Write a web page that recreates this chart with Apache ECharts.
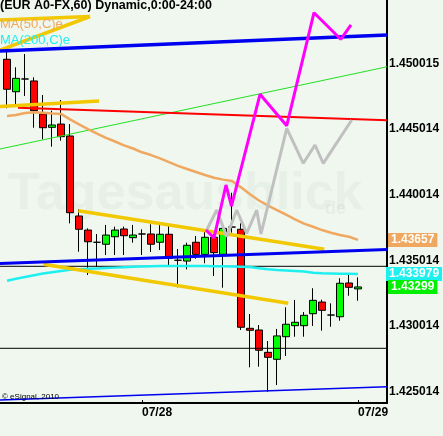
<!DOCTYPE html>
<html>
<head>
<meta charset="utf-8">
<script src="https://cdn.jsdelivr.net/npm/echarts@6/dist/echarts.min.js"></script>
<style>
  html, body { margin: 0; padding: 0; background: #eff7ef; }
  #chart { width: 443px; height: 436px; }
</style>
</head>
<body>
<div id="chart"></div>
<script>
// 60 min bars, index 0..39 (bar 15 = 07/28 0:00, bar 39 = 07/29 0:00)
const opens = [1.45032, 1.44785, 1.44882, 1.44867, 1.44616, 1.44514, 1.44539, 1.44448, 1.43839, 1.43732,
  1.43639, 1.43624, 1.43681, 1.43740, 1.43674, 1.43702, 1.43702, 1.43639, 1.43700, 1.43502,
  1.43496, 1.43639, 1.43547, 1.43677, 1.43547, 1.43755, 1.43738, 1.42984, 1.42971, 1.42801,
  1.42748, 1.42920, 1.43004, 1.43004, 1.43095, 1.43184, 1.43085, 1.43072, 1.43329, 1.43284];
const closes = [1.44804, 1.44887, 1.44882, 1.44641, 1.44511, 1.44532, 1.44443, 1.43864, 1.43738, 1.43643,
  1.43639, 1.43694, 1.43732, 1.43689, 1.43694, 1.43702, 1.43624, 1.43700, 1.43517, 1.43502,
  1.43616, 1.43547, 1.43677, 1.43560, 1.43745, 1.43755, 1.42992, 1.42969, 1.42817, 1.42763,
  1.42926, 1.43015, 1.43030, 1.43083, 1.43197, 1.43121, 1.43085, 1.43327, 1.43296, 1.43299];
const lows = [1.44659, 1.44684, 1.44753, 1.44511, 1.44423, 1.44367, 1.44412, 1.43783, 1.43567, 1.43390,
  1.43453, 1.43542, 1.43542, 1.43542, 1.43636, 1.43542, 1.43565, 1.43580, 1.43453, 1.43296,
  1.43433, 1.43514, 1.43479, 1.43382, 1.43293, 1.43712, 1.42971, 1.42687, 1.42692, 1.42501,
  1.42552, 1.42773, 1.42920, 1.42920, 1.43002, 1.42966, 1.42996, 1.43042, 1.43232, 1.43194];
const highs = [1.45116, 1.44971, 1.45072, 1.44895, 1.44760, 1.44641, 1.44722, 1.44539, 1.43890, 1.43745,
  1.43702, 1.43771, 1.43758, 1.43758, 1.43771, 1.43738, 1.43776, 1.43776, 1.43778, 1.43588,
  1.43636, 1.43687, 1.43738, 1.43702, 1.43750, 1.44016, 1.43783, 1.43093, 1.43009, 1.42887,
  1.42979, 1.43144, 1.43200, 1.43108, 1.43289, 1.43202, 1.43174, 1.43365, 1.43403, 1.43372];

const ma50 = [1.44600, 1.44608, 1.44623, 1.44629, 1.44625, 1.44620, 1.44616, 1.44575, 1.44537, 1.44501,
  1.44467, 1.44434, 1.44406, 1.44377, 1.44353, 1.44324, 1.44303, 1.44278, 1.44249, 1.44221,
  1.44197, 1.44174, 1.44151, 1.44130, 1.44116, 1.44105, 1.44057, 1.44005, 1.43957, 1.43918,
  1.43883, 1.43849, 1.43814, 1.43781, 1.43757, 1.43732, 1.43712, 1.43694, 1.43681, 1.43657];
const ma200 = [1.43346, 1.43361, 1.43375, 1.43388, 1.43401, 1.43411, 1.43420, 1.43429, 1.43433, 1.43437,
  1.43440, 1.43443, 1.43446, 1.43449, 1.43452, 1.43454, 1.43456, 1.43458, 1.43458, 1.43458,
  1.43458, 1.43458, 1.43458, 1.43457, 1.43456, 1.43455, 1.43453, 1.43451, 1.43442, 1.43434,
  1.43428, 1.43424, 1.43420, 1.43416, 1.43407, 1.43404, 1.43402, 1.43400, 1.43399, 1.433979];

// drawn lines: [bar index, price]
const blueTop = [[-0.78, 1.450951], [42.22, 1.452169]];
const blueMid = [[-0.78, 1.434774], [42.22, 1.435840]];
const blueLow = [[-0.78, 1.424382], [42.22, 1.425395]];
const redLine = [[1.22, 1.446635], [42.22, 1.445676]];
const greenLine = [[-0.78, 1.443491], [42.22, 1.449749]];
const yellowA = [[-0.78, 1.453311], [9.22, 1.453578]];
const yellowB = [[-0.78, 1.451028], [9.22, 1.453578]];
const yellowC = [[-0.78, 1.446726], [10.22, 1.447145]];
const yellowD = [[7.92, 1.438793], [35.25, 1.435855]];
const yellowE = [[4.03, 1.434713], [31.25, 1.431744]];
const hLevels = [1.434561, 1.428318];
const magentaPath = [[22.11, 1.437324], [23.0, 1.436715], [24.33, 1.440750], [24.94, 1.439151],
  [28.11, 1.447655], [31.08, 1.445264], [34.11, 1.453867], [37.08, 1.451842], [38.22, 1.452931]];
const grayPath = [[22.19, 1.437324], [23.30, 1.438847], [24.41, 1.436814], [25.52, 1.438847],
  [26.63, 1.437073], [27.74, 1.438847], [28.22, 1.437020], [31.08, 1.445067], [32.92, 1.442402],
  [34.22, 1.443795], [35.14, 1.442402], [38.30, 1.445698]];

const priceTicks = [1.425014, 1.430014, 1.435014, 1.440014, 1.445014, 1.450015];
const dateTicks = [15, 39];
const dateLabels = ["07/28", "07/29"];
const lastMa50 = 1.43657;
const lastMa200 = 1.433979;
const lastClose = 1.43299;

const xMin = -0.78, xMax = 42.22;
const font = "Liberation Sans";

function lineSeries(data, color, width) {
  return {
    type: "line",
    data: data,
    symbol: "none",
    silent: true,
    lineStyle: { color: color, width: width }
  };
}

const candles = opens.map((o, i) => [i, o, closes[i], lows[i], highs[i]]);

const series = [
  lineSeries([[xMin, hLevels[0]], [xMax, hLevels[0]]], "#000", 1),
  lineSeries([[xMin, hLevels[1]], [xMax, hLevels[1]]], "#000", 1),
  lineSeries(greenLine, "#22e022", 1),
  lineSeries(redLine, "#ff0000", 2),
  lineSeries(ma50.map((v, i) => [i, v]), "#f0a860", 2.5),
  lineSeries(ma200.map((v, i) => [i, v]), "#1ef0f0", 2.5),
  lineSeries(yellowA, "#f2c800", 3.5),
  lineSeries(yellowB, "#f2c800", 3.5),
  lineSeries(yellowC, "#f2c800", 3.5),
  lineSeries(yellowD, "#f2c800", 3.5),
  lineSeries(yellowE, "#f2c800", 3.5),
  lineSeries(blueTop, "#0000f0", 3.5),
  lineSeries(blueMid, "#0000f0", 3),
  lineSeries(blueLow, "#0000f0", 1.5),
  lineSeries(grayPath, "#c0c0c0", 3),
  lineSeries(magentaPath, "#ff00ff", 3),
  {
    type: "candlestick",
    data: candles,
    barWidth: 7,
    silent: true,
    itemStyle: {
      color: "#00ff00",
      color0: "#ff0000",
      borderColor: "#000",
      borderColor0: "#000",
      borderColorDoji: "#000",
      borderWidth: 1
    }
  }
];

const option = {
  animation: false,
  backgroundColor: "#eff7ef",
  grid: { left: 0, right: 56, top: 0, bottom: 33 },
  xAxis: {
    type: "value",
    min: xMin,
    max: xMax,
    axisLine: { onZero: false, lineStyle: { color: "#000", width: 2 } },
    axisTick: { show: true, inside: true, length: 3, customValues: dateTicks, lineStyle: { color: "#000" } },
    axisLabel: {
      customValues: dateTicks,
      formatter: v => dateLabels[dateTicks.indexOf(v)],
      align: "left",
      margin: 4,
      color: "#000",
      fontSize: 12,
      fontWeight: "bold",
      fontFamily: font
    },
    splitLine: { show: false }
  },
  yAxis: {
    type: "value",
    position: "right",
    min: 1.424154,
    max: 1.454834,
    axisLine: { show: true, onZero: false, lineStyle: { color: "#000", width: 2 } },
    axisTick: { show: false },
    axisLabel: {
      customValues: priceTicks,
      formatter: v => v.toFixed(6),
      margin: 2,
      color: "#000",
      fontSize: 12,
      fontWeight: "bold",
      fontFamily: font
    },
    splitLine: { show: false }
  },
  series: series
};

const chart = echarts.init(document.getElementById("chart"));
chart.setOption(option, true);

const py = v => chart.convertToPixel({ yAxisIndex: 0 }, v);

function tag(value, x, bg) {
  return {
    type: "text",
    z: 20,
    x: x,
    y: py(value),
    style: {
      text: String(value),
      font: "bold 12px " + font,
      fill: "#fff",
      backgroundColor: bg,
      padding: [1, 3, 1, 3],
      verticalAlign: "middle"
    }
  };
}

chart.setOption({
  graphic: [
    {
      type: "text", z: 0, silent: true, x: 8, y: 195,
      style: { text: "Tagesausblick", font: "bold 52px " + font, fill: "rgba(110,140,110,0.06)", verticalAlign: "middle" }
    },
    {
      type: "text", z: 0, silent: true, x: 325, y: 209,
      style: { text: "de", font: "bold 18px " + font, fill: "rgba(110,140,110,0.08)", verticalAlign: "middle" }
    },
    {
      type: "text", z: 20, x: 0, y: -1,
      style: { text: "(EUR A0-FX,60) Dynamic,0:00-24:00", font: "bold 12.5px " + font, fill: "#000", verticalAlign: "top" }
    },
    {
      type: "text", z: 20, x: 0, y: 24,
      style: { text: "MA(50,C)e", font: "13px " + font, fill: "#f0a860", verticalAlign: "middle" }
    },
    {
      type: "text", z: 20, x: 0, y: 40,
      style: { text: "MA(200,C)e", font: "13px " + font, fill: "#1ef0f0", verticalAlign: "middle" }
    },
    {
      type: "text", z: 20, x: 2, y: 397,
      style: { text: "\u00a9 eSignal, 2010", font: "8px " + font, fill: "#000", verticalAlign: "middle" }
    },
    tag(lastMa50, 388, "#f0a860"),
    tag(lastMa200, 386, "#1ef0f0"),
    tag(lastClose, 388, "#00f000")
  ]
});
</script>
</body>
</html>
